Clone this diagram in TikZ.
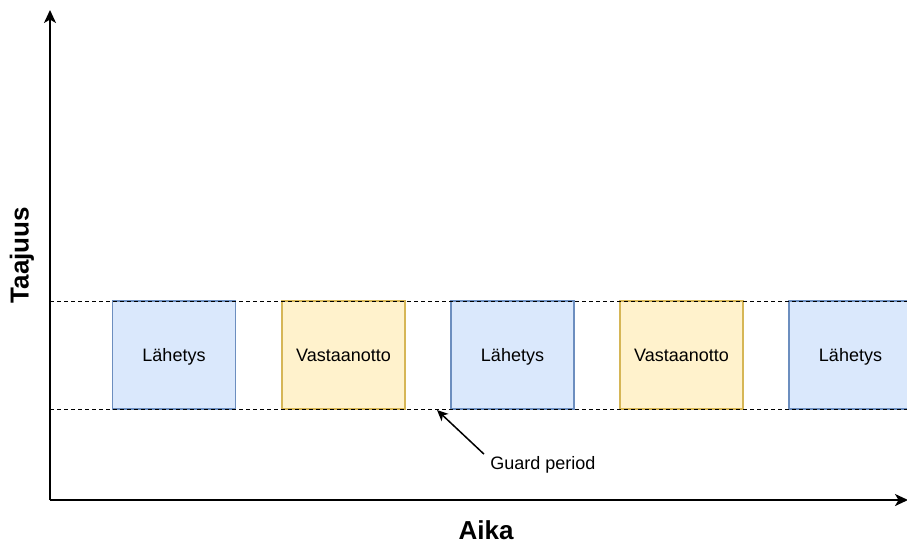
\documentclass[tikz,border=0pt]{standalone}
\usepackage{fontspec}
\setmainfont{Liberation Sans}
\usetikzlibrary{arrows.meta,positioning}
\definecolor{txblue}{HTML}{DAE8FC}
\definecolor{txblueline}{HTML}{6C8EBF}
\definecolor{rxyellow}{HTML}{FFF2CC}
\definecolor{rxyellowline}{HTML}{D6B656}
\tikzset{axis/.style={-{Stealth[length=13pt,width=12pt,inset=3.5pt]},line width=2pt},
  slot/.style={rectangle,minimum width=123pt,minimum height=108pt,
  line width=1.2pt,inner sep=0pt,text height=13pt,text depth=0pt,
  font=\fontsize{18}{20}\selectfont},
  txslot/.style={slot,fill=txblue,draw=txblueline},
  rxslot/.style={slot,fill=rxyellow,draw=rxyellowline},
  bandedge/.style={line width=1pt,dash pattern=on 4pt off 3pt},
  pointer/.style={-{Stealth[length=11pt,width=10pt,inset=3pt]},line width=1.5pt},
  axlabel/.style={font=\fontsize{26}{28}\selectfont\bfseries}}

\begin{document}
\begin{tikzpicture}[x=1pt,y=-1pt]
 \clip (0,0) rectangle (907,547);
 \fill[white] (0,0) rectangle (907,547);
 % axes
 \coordinate (o) at (50,500);
 \coordinate (ytop) at (50,10);
 \coordinate (xend) at (908,500);
 \draw[axis] (o)--(ytop);
 \draw[axis] (o)--(xend);
 \node[axlabel] (aika) at (486,530) {Aika};
 \node[axlabel,rotate=90] (taajuus) at (22,255) {Taajuus};
 % slots
 \node[txslot] (tx1) at (174,355) {Lähetys};
 \node[rxslot] (rx1) at (343.5,355) {Vastaanotto};
 \node[txslot] (tx2) at (512.5,355) {Lähetys};
 \node[rxslot] (rx2) at (681.5,355) {Vastaanotto};
 \node[txslot] (tx3) at (850.5,355) {Lähetys};
 % band limits
 \coordinate (bt0) at (50,301);
 \coordinate (bt1) at (907,301);
 \coordinate (bb0) at (50,409);
 \coordinate (bb1) at (907,409);
 \draw[bandedge] (bt0)--(bt1);
 \draw[bandedge] (bb0)--(bb1);
 % guard period
 \node[font=\fontsize{18}{20}\selectfont] (guard) at (543,465) {Guard period};
 \coordinate (gp) at (437,410);
 \draw[pointer] ([xshift=-3pt,yshift=-1pt]guard.north west)--(gp);
\end{tikzpicture}
\end{document}
